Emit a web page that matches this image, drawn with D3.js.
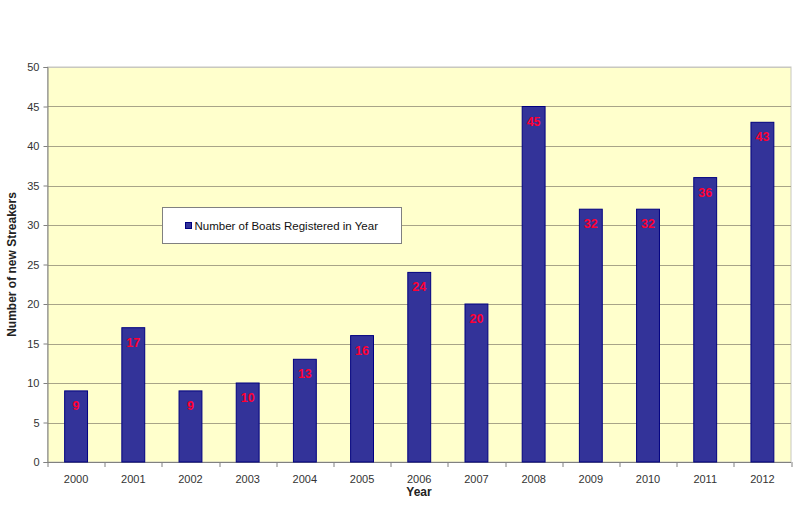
<!DOCTYPE html>
<html>
<head>
<meta charset="utf-8">
<script src="https://cdn.jsdelivr.net/npm/d3@7"></script>
<style>
  html, body { margin: 0; padding: 0; background: #fff; }
  svg { display: block; font-family: "Liberation Sans", Arial, sans-serif; }
</style>
</head>
<body>
<svg id="chart" width="800" height="512"></svg>
<script>
// Boats registered per year
const years = ["2000", "2001", "2002", "2003", "2004", "2005", "2006",
               "2007", "2008", "2009", "2010", "2011", "2012"];
const boats = [9, 17, 9, 10, 13, 16, 24, 20, 45, 32, 32, 36, 43];
const yTicks = [0, 5, 10, 15, 20, 25, 30, 35, 40, 45, 50];

const W = 800, H = 512;
const m = { top: 67, right: 9, bottom: 50, left: 47.5 };
const iw = W - m.left - m.right;
const ih = H - m.top - m.bottom;

const svg = d3.select("#chart");
const g = svg.append("g").attr("transform", `translate(${m.left},${m.top})`);

const x = d3.scaleBand().domain(years).range([0, iw]).paddingInner(0.6).paddingOuter(0.3);
const y = d3.scaleLinear().domain([0, 50]).range([ih, 0]);

// plot background
g.append("rect")
  .attr("width", iw).attr("height", ih)
  .attr("fill", "#ffffcc")
  .attr("stroke", "#c8c8c0").attr("stroke-width", 1);

// gridlines
g.append("g")
  .selectAll("line")
  .data(yTicks.filter((d) => d > 0))
  .join("line")
  .attr("x1", 0).attr("x2", iw)
  .attr("y1", (d) => Math.round(y(d)) + 0.5).attr("y2", (d) => Math.round(y(d)) + 0.5)
  .attr("stroke", (d) => (d === 50 ? "#c8c8c0" : "#a8a488"))
  .attr("stroke-width", 1);

// y axis
const yAxis = g.append("g")
  .call(d3.axisLeft(y).tickValues(yTicks).tickSize(4).tickPadding(4));
yAxis.select(".domain").attr("stroke", "#808080");
yAxis.selectAll(".tick line").attr("stroke", "#808080");
yAxis.selectAll("text").attr("font-size", 11).attr("fill", "#333");

// x axis with ticks at category boundaries
const xAxis = g.append("g").attr("transform", `translate(0,${ih})`);
xAxis.append("line")
  .attr("x1", 0).attr("x2", iw).attr("y1", 0.5).attr("y2", 0.5)
  .attr("stroke", "#808080");
xAxis.selectAll("line.tk")
  .data(d3.range(years.length + 1))
  .join("line")
  .attr("class", "tk")
  .attr("x1", (i) => Math.round(i * iw / years.length) + 0.5)
  .attr("x2", (i) => Math.round(i * iw / years.length) + 0.5)
  .attr("y1", 0).attr("y2", 5)
  .attr("stroke", "#808080");
xAxis.selectAll("text")
  .data(years)
  .join("text")
  .attr("x", (d) => x(d) + x.bandwidth() / 2)
  .attr("y", 21)
  .attr("text-anchor", "middle")
  .attr("font-size", 11)
  .attr("fill", "#333")
  .text((d) => d);

// bars
g.append("g")
  .selectAll("rect")
  .data(boats)
  .join("rect")
  .attr("x", (d, i) => x(years[i]))
  .attr("y", (d) => y(d))
  .attr("width", x.bandwidth())
  .attr("height", (d) => ih - y(d))
  .attr("fill", "#333399")
  .attr("stroke", "#000080")
  .attr("stroke-width", 1);

// value labels
g.append("g")
  .selectAll("text")
  .data(boats)
  .join("text")
  .attr("x", (d, i) => x(years[i]) + x.bandwidth() / 2)
  .attr("y", (d) => y(d) + 19)
  .attr("text-anchor", "middle")
  .attr("font-size", 12.5)
  .attr("font-weight", "bold")
  .attr("fill", "#ff0033")
  .text((d) => d);

// axis titles
svg.append("text")
  .attr("x", 419)
  .attr("y", 496)
  .attr("text-anchor", "middle")
  .attr("font-size", 12)
  .attr("font-weight", "bold")
  .attr("fill", "#222")
  .text("Year");

svg.append("text")
  .attr("transform", `translate(16,${m.top + ih / 2}) rotate(-90)`)
  .attr("text-anchor", "middle")
  .attr("font-size", 12)
  .attr("font-weight", "bold")
  .attr("fill", "#222")
  .text("Number of new Streakers");

// legend
const lg = svg.append("g").attr("transform", "translate(162.5,207.5)");
lg.append("rect")
  .attr("width", 239).attr("height", 36)
  .attr("fill", "#fff").attr("stroke", "#808080");
lg.append("rect")
  .attr("x", 23).attr("y", 15).attr("width", 6).attr("height", 6)
  .attr("fill", "#333399").attr("stroke", "#000080");
lg.append("text")
  .attr("x", 32).attr("y", 22)
  .attr("font-size", 11.5)
  .attr("fill", "#111")
  .text("Number of Boats Registered in Year");
</script>
</body>
</html>
